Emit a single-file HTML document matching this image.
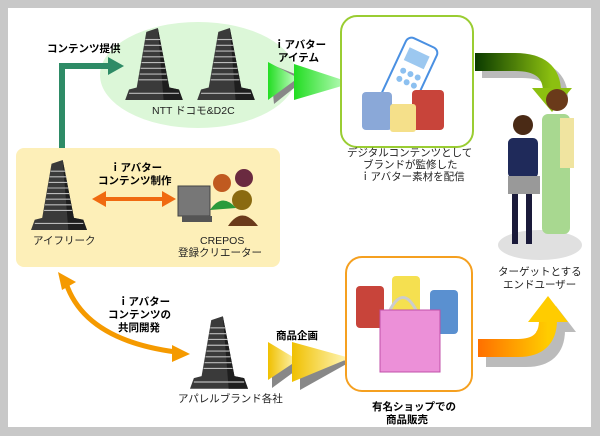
<!DOCTYPE html>
<html><head><meta charset="utf-8"><style>
html,body{margin:0;padding:0;background:#fff}
svg{display:block}
text{font-family:"Liberation Sans","Noto Sans CJK JP",sans-serif;font-size:10.5px;fill:#222}
.b{font-weight:bold;fill:#000}
</style></head><body>
<svg width="600" height="436" viewBox="0 0 600 436" xmlns="http://www.w3.org/2000/svg">
<defs>
<symbol id="bld" viewBox="0 0 60 75">
<polygon points="0,75 4,64 12,62 22,4 34,0 46,62 56,64 60,75" fill="#3a3a3a"/>
<polygon points="34,0 46,62 56,64 60,75 40,75" fill="#1e1e1e"/>
<g stroke="#bbb" stroke-width="1.2">
<line x1="21" y1="12" x2="37" y2="12"/><line x1="20" y1="18" x2="38" y2="18"/><line x1="19" y1="24" x2="39" y2="24"/><line x1="18" y1="30" x2="40" y2="30"/><line x1="17" y1="36" x2="41" y2="36"/><line x1="16" y1="42" x2="42" y2="42"/><line x1="15" y1="48" x2="43" y2="48"/><line x1="14" y1="54" x2="44" y2="54"/>
<line x1="4" y1="68" x2="56" y2="68"/>
</g>
</symbol>
<linearGradient id="gg" x1="0" x2="1"><stop offset="0" stop-color="#22dd22"/><stop offset="1" stop-color="#ccffcc"/></linearGradient>
<linearGradient id="yg" x1="0" x2="1"><stop offset="0" stop-color="#f0c000"/><stop offset="1" stop-color="#fff8c0"/></linearGradient>
<linearGradient id="dg" x1="0" x2="1"><stop offset="0" stop-color="#0a3a00"/><stop offset="1" stop-color="#8cc010"/></linearGradient>
<linearGradient id="og" x1="0" x2="1"><stop offset="0" stop-color="#ff7000"/><stop offset="1" stop-color="#ffcc00"/></linearGradient>
</defs>
<rect x="0" y="0" width="600" height="436" fill="#c8c8c8"/>
<rect x="8" y="8" width="583" height="419" fill="#fff"/>
<ellipse cx="198" cy="75" rx="98" ry="53" fill="#dcf7d8"/>
<use href="#bld" x="124" y="28" width="60" height="72"/>
<use href="#bld" x="196" y="28" width="60" height="72"/>
<text x="152" y="114">NTT ドコモ&amp;D2C</text>
<path d="M62 160 V66 H110" fill="none" stroke="#2e8b66" stroke-width="6"/>
<polygon points="108,57 124,66 108,75" fill="#2e8b66"/>
<text class="b" x="47" y="52">コンテンツ提供</text>
<polygon points="270,64 300,76 304,80 274,104" fill="#888"/>
<polygon points="268,62 298,78 268,100" fill="url(#gg)"/>
<polygon points="294,64 352,83 294,100" fill="url(#gg)"/>
<text class="b" x="274" y="48">ｉアバター</text>
<text class="b" x="278" y="61">アイテム</text>
<rect x="341" y="16" width="132" height="131" rx="16" fill="#fff" stroke="#9acd32" stroke-width="2"/>
<g transform="rotate(25 410 75)"><rect x="392" y="40" width="34" height="70" rx="6" fill="#fff" stroke="#4a90e2" stroke-width="2"/><rect x="398" y="50" width="22" height="14" fill="#9cc8f0"/><g fill="#8cc0f0"><circle cx="402" cy="74" r="3"/><circle cx="410" cy="74" r="3"/><circle cx="418" cy="74" r="3"/><circle cx="402" cy="83" r="3"/><circle cx="410" cy="83" r="3"/><circle cx="418" cy="83" r="3"/></g></g>
<rect x="362" y="92" width="30" height="38" rx="4" fill="#8aa8d8"/>
<rect x="412" y="90" width="32" height="40" rx="4" fill="#c8443a"/>
<rect x="390" y="104" width="26" height="28" rx="3" fill="#f5e08a"/>
<text x="347" y="156">デジタルコンテンツとして</text>
<text x="363" y="168">ブランドが監修した</text>
<text x="360" y="180">ｉアバター素材を配信</text>
<g transform="translate(7,7)"><path d="M475 62 H515 Q552 62 552 92" fill="none" stroke="#bbb" stroke-width="18"/></g>
<path d="M475 62 H515 Q552 62 552 92" fill="none" stroke="url(#dg)" stroke-width="18"/>
<polygon points="532,88 572,88 552,112" fill="#8cc010"/>
<ellipse cx="540" cy="245" rx="42" ry="15" fill="#e0e0e0"/>
<circle cx="523" cy="125" r="10" fill="#4a2a15"/>
<rect x="508" y="138" width="30" height="40" rx="5" fill="#1f2a5a"/>
<rect x="508" y="176" width="32" height="18" fill="#999"/>
<rect x="512" y="194" width="6" height="50" fill="#1a1a3a"/><rect x="526" y="194" width="6" height="50" fill="#1a1a3a"/>
<circle cx="557" cy="100" r="11" fill="#6a3a1a"/>
<rect x="542" y="114" width="28" height="120" rx="6" fill="#a8d890"/>
<rect x="560" y="118" width="14" height="50" fill="#f0e4a0"/>
<text x="498" y="275">ターゲットとする</text>
<text x="503" y="288">エンドユーザー</text>
<rect x="16" y="148" width="264" height="119" rx="8" fill="#fdefb8"/>
<use href="#bld" x="30" y="160" width="58" height="70"/>
<text x="33" y="244">アイフリーク</text>
<line x1="104" y1="199" x2="164" y2="199" stroke="#f06a10" stroke-width="4"/>
<polygon points="92,199 106,191 106,207" fill="#f06a10"/>
<polygon points="176,199 162,191 162,207" fill="#f06a10"/>
<text class="b" x="110" y="171">ｉアバター</text>
<text class="b" x="98" y="184">コンテンツ制作</text>
<rect x="178" y="186" width="32" height="30" fill="#777" stroke="#444"/>
<rect x="182" y="216" width="30" height="6" fill="#555"/>
<circle cx="222" cy="183" r="9" fill="#c05a20"/><circle cx="244" cy="178" r="9" fill="#6a2a40"/><circle cx="242" cy="200" r="10" fill="#8a6a10"/>
<path d="M210 210 Q222 192 236 208 Z" fill="#2a9a3a"/>
<path d="M228 226 Q242 205 258 226 Z" fill="#6a3a1a"/>
<text x="200" y="244">CREPOS</text>
<text x="178" y="256">登録クリエーター</text>
<path d="M66 283 Q85 340 176 352" fill="none" stroke="#f59a00" stroke-width="5"/>
<polygon points="58,272 76,282 62,290" fill="#f59a00"/>
<polygon points="190,354 172,345 172,362" fill="#f59a00"/>
<text class="b" x="118" y="305">ｉアバター</text>
<text class="b" x="108" y="318">コンテンツの</text>
<text class="b" x="118" y="331">共同開発</text>
<use href="#bld" x="190" y="315" width="58" height="75"/>
<text x="178" y="402">アパレルブランド各社</text>
<polygon points="272,346 302,366 272,388" fill="#888"/>
<polygon points="300,348 350,362 300,390" fill="#888"/>
<polygon points="268,342 298,360 268,380" fill="url(#yg)"/>
<polygon points="292,342 350,358 292,382" fill="url(#yg)"/>
<text class="b" x="276" y="339">商品企画</text>
<rect x="346" y="257" width="126" height="134" rx="16" fill="#fff" stroke="#f5a020" stroke-width="2"/>
<rect x="356" y="286" width="28" height="42" rx="4" fill="#c8443a"/>
<rect x="392" y="276" width="28" height="42" rx="4" fill="#f5e050"/>
<rect x="430" y="290" width="28" height="44" rx="4" fill="#5a90d0"/>
<path d="M390 310 Q403 285 416 310" fill="none" stroke="#ccc" stroke-width="3"/>
<rect x="380" y="310" width="60" height="62" fill="#ec90d8" stroke="#c050a8"/>
<text class="b" x="372" y="410">有名ショップでの</text>
<text class="b" x="386" y="423">商品販売</text>
<g transform="translate(8,10)"><path d="M478 348 H518 Q548 348 548 320" fill="none" stroke="#bbb" stroke-width="18"/><polygon points="528,322 548,296 568,322" fill="#bbb"/></g>
<path d="M478 348 H518 Q548 348 548 320" fill="none" stroke="url(#og)" stroke-width="18"/>
<polygon points="528,322 548,296 568,322" fill="#ffcc00"/>
</svg>
</body></html>
